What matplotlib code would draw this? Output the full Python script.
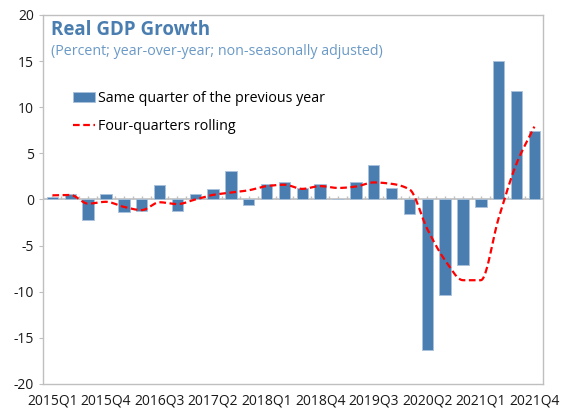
import matplotlib.pyplot as plt
import numpy as np
from matplotlib.lines import Line2D
from matplotlib.patches import Patch

plt.rcParams['font.family'] = ['Open Sans', 'DejaVu Sans']
plt.rcParams['axes.unicode_minus'] = False

# Quarters shown on the category axis
quarters = ['2015Q1', '2015Q2', '2015Q3', '2015Q4',
            '2016Q1', '2016Q2', '2016Q3', '2016Q4',
            '2017Q1', '2017Q2', '2017Q3', '2017Q4',
            '2018Q1', '2018Q2', '2018Q3', '2018Q4',
            '2019Q1', '2019Q2', '2019Q3', '2019Q4',
            '2020Q1', '2020Q2', '2020Q3', '2020Q4',
            '2021Q1', '2021Q2', '2021Q3', '2021Q4']

# Growth vs same quarter of the previous year (percent)
same_quarter = [0.3, 0.6, -2.2, 0.6, -1.4, -1.2, 1.55, -1.2,
                0.55, 1.1, 3.05, -0.55, 1.7, 1.9, 1.25, 1.7,
                0.0, 1.9, 3.7, 1.2, -1.6, -16.3, -10.3, -7.1,
                -0.8, 15.0, 11.8, 7.4]

# Four-quarters rolling growth (percent)
rolling = [0.45, 0.5, -0.45, -0.25, -0.8, -1.15, -0.3, -0.5,
           0.0, 0.5, 0.75, 1.0, 1.45, 1.6, 1.15, 1.45,
           1.25, 1.4, 1.85, 1.7, 1.1, -3.2, -6.6, -8.75,
           -8.75, -2.0, 3.9, 7.9]

yticks = [-20, -15, -10, -5, 0, 5, 10, 15, 20]
label_step = 3

BAR_COLOR = '#4a7eb0'
LINE_COLOR = '#ff0000'
FRAME_COLOR = '#bfbfbf'


def smooth(x, y, n=20):
    # Monotone cubic (Fritsch-Carlson) curve through the points
    x = np.asarray(x, float)
    y = np.asarray(y, float)
    h = np.diff(x)
    d = np.diff(y) / h
    m = np.zeros_like(y)
    m[0], m[-1] = d[0], d[-1]
    for i in range(1, len(y) - 1):
        if d[i - 1] * d[i] > 0:
            m[i] = 2.0 / (1.0 / d[i - 1] + 1.0 / d[i])
    xs, ys = [], []
    t = np.linspace(0, 1, n, endpoint=False)
    for i in range(len(y) - 1):
        h00 = 2 * t ** 3 - 3 * t ** 2 + 1
        h10 = t ** 3 - 2 * t ** 2 + t
        h01 = -2 * t ** 3 + 3 * t ** 2
        h11 = t ** 3 - t ** 2
        xs.append(x[i] + t * h[i])
        ys.append(h00 * y[i] + h10 * h[i] * m[i] + h01 * y[i + 1] + h11 * h[i] * m[i + 1])
    xs.append([x[-1]])
    ys.append([y[-1]])
    return np.concatenate(xs), np.concatenate(ys)


fig = plt.figure(figsize=(5.61, 4.15), dpi=100)
ax = fig.add_axes([0.0775, 0.0747, 0.891, 0.8892])

x = np.arange(len(quarters))

# Zero line with small category ticks
ax.axhline(0, color=FRAME_COLOR, lw=1.2, zorder=1)
ax.vlines(np.arange(-0.5, len(quarters), 0.5), 0, 0.35, color=FRAME_COLOR, lw=1.0, zorder=1)

ax.bar(x, same_quarter, width=0.64, color=BAR_COLOR, edgecolor='#a9c1da',
       linewidth=0.6, zorder=2)

sx, sy = smooth(x, rolling)
line, = ax.plot(sx, sy, color=LINE_COLOR, lw=1.6, zorder=3)
line.set_dashes([3, 1.6])

ax.set_xlim(-0.5, len(quarters) - 0.5)
ax.set_ylim(-20, 20)
ax.set_yticks(yticks)
ax.set_yticklabels([str(v) for v in yticks])
ax.set_xticks(x[::label_step])
ax.set_xticklabels(quarters[::label_step])

ax.tick_params(axis='y', direction='out', length=3, width=0.8, color=FRAME_COLOR,
               labelsize=10, labelcolor='#1a1a1a', pad=4)
ax.tick_params(axis='x', length=0, labelsize=10, labelcolor='#1a1a1a', pad=7)

for s in ax.spines.values():
    s.set_color(FRAME_COLOR)
    s.set_linewidth(1.0)

# Titles inside the plot area
ax.text(0.016, 0.96, 'Real GDP Growth', transform=ax.transAxes, fontsize=13.5,
        fontweight='bold', color='#4a7eb0', va='center', ha='left')
ax.text(0.016, 0.9, '(Percent; year-over-year; non-seasonally adjusted)',
        transform=ax.transAxes, fontsize=10.3, color='#6b9ac6', va='center', ha='left')

handles = [Patch(facecolor=BAR_COLOR, edgecolor='#a9c1da', linewidth=0.6),
           Line2D([], [], color=LINE_COLOR, lw=1.6, dashes=[3, 1.6])]
labels = ['Same quarter of the previous year', 'Four-quarters rolling']
ax.legend(handles, labels, loc='upper left', bbox_to_anchor=(0.048, 0.81),
          frameon=False, fontsize=10.3, handlelength=1.55, handletextpad=0.15,
          labelspacing=0.95, borderaxespad=0)

fig.savefig('out.png', dpi=100)
